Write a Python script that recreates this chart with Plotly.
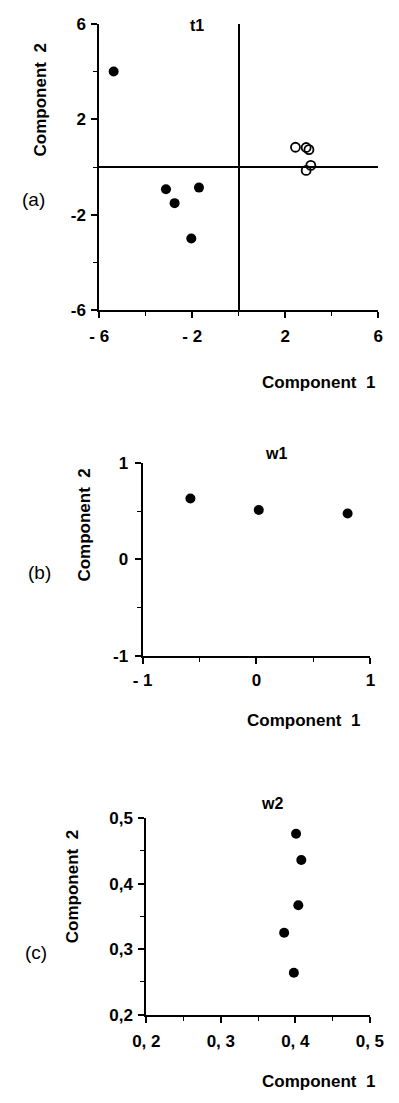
import plotly.graph_objects as go

# ---- data ----
t1_filled_x = [-5.38, -3.13, -2.76, -1.71, -2.04]
t1_filled_y = [4.0, -0.93, -1.51, -0.86, -2.99]
t1_open_x = [2.44, 2.90, 3.02, 3.10, 2.90]
t1_open_y = [0.83, 0.82, 0.73, 0.07, -0.14]

w1_x = [-0.58, 0.02, 0.80]
w1_y = [0.63, 0.51, 0.475]

w2_x = [0.401, 0.408, 0.404, 0.385, 0.398]
w2_y = [0.476, 0.436, 0.367, 0.325, 0.264]

a_xticks = [-6, -2, 2, 6]
a_xticktext = ["- 6", "- 2", "2", "6"]
a_yticks = [-6, -2, 2, 6]
a_yticktext = ["-6", "-2", "2", "6"]
b_ticks = [-1, 0, 1]
b_xticktext = ["- 1", "0", "1"]
b_yticktext = ["-1", "0", "1"]
c_ticks = [0.2, 0.3, 0.4, 0.5]
c_xticktext = ["0, 2", "0, 3", "0, 4", "0, 5"]
c_yticktext = ["0,2", "0,3", "0,4", "0,5"]

W, H = 399, 1103
def dx(p):
    return p / W
def dy(p):
    return 1 - p / H

FONT = "Liberation Sans"
tickfont = dict(family=FONT, size=17, color="black", weight="bold")

fig = go.Figure()

fig.add_trace(go.Scatter(x=t1_filled_x, y=t1_filled_y, mode="markers",
                         marker=dict(symbol="circle", size=10, color="black"),
                         xaxis="x", yaxis="y"))
fig.add_trace(go.Scatter(x=t1_open_x, y=t1_open_y, mode="markers",
                         marker=dict(symbol="circle-open", size=9, color="black",
                                     line=dict(width=1.8, color="black")),
                         xaxis="x", yaxis="y"))
fig.add_trace(go.Scatter(x=w1_x, y=w1_y, mode="markers",
                         marker=dict(symbol="circle", size=10, color="black"),
                         xaxis="x2", yaxis="y2"))
fig.add_trace(go.Scatter(x=w2_x, y=w2_y, mode="markers",
                         marker=dict(symbol="circle", size=10, color="black"),
                         xaxis="x3", yaxis="y3"))

def axis(domain, rng, tickvals, ticktext, minor_dtick, anchor, zeroline=False, standoff=4):
    return dict(domain=domain, range=rng, tickmode="array", tickvals=tickvals,
                ticktext=ticktext, showgrid=False, showline=True, linecolor="black",
                linewidth=2, ticks="outside", ticklen=6, tickwidth=1.5, tickcolor="black",
                tickfont=tickfont, anchor=anchor, zeroline=zeroline, zerolinecolor="black",
                zerolinewidth=1.6, ticklabelstandoff=standoff,
                minor=dict(dtick=minor_dtick, tick0=rng[0], ticks="outside", ticklen=4,
                           tickwidth=1.2, tickcolor="black", showgrid=False))

fig.update_layout(
    width=W, height=H, margin=dict(l=0, r=0, t=0, b=0),
    paper_bgcolor="white", plot_bgcolor="white", showlegend=False,
    xaxis=axis([dx(91.7), dx(391.7)], [-6, 6], a_xticks, a_xticktext, 2, "y", True, 3),
    yaxis=axis([dy(306.7), dy(15)], [-6, 6], a_yticks, a_yticktext, 2, "x", True, 2),
    xaxis2=axis([dx(138.3), dx(383.3)], [-1, 1], b_ticks, b_xticktext, 0.5, "y2", False, 2),
    yaxis2=axis([dy(658.3), dy(461.7)], [-1, 1], b_ticks, b_yticktext, 0.5, "x2", False, 3),
    xaxis3=axis([dx(142.3), dx(382.7)], [0.2, 0.5], c_ticks, c_xticktext, 0.05, "y3", False, 4),
    yaxis3=axis([dy(1023.3), dy(823.3)], [0.2, 0.5], c_ticks, c_yticktext, 0.05, "x3", False, 2),
)

def ann(text, x, y, size=17, bold=True, angle=0):
    fig.add_annotation(text=text, x=dx(x), y=dy(y), xref="paper", yref="paper",
                       showarrow=False, textangle=angle, xanchor="center", yanchor="middle",
                       font=dict(family=FONT, size=size, color="black",
                                 weight="bold" if bold else "normal"))

# panel titles
ann("t1", 197, 17, 16)
ann("w1", 282, 452, 16)
ann("w2", 277, 808, 16)
# panel labels
ann("(a)", 21, 194, 19, bold=False)
ann("(b)", 27, 573, 19, bold=False)
ann("(c)", 24, 960, 19, bold=False)
# axis titles
ann("Component  1", 328, 380)
ann("Component  1", 311, 724)
ann("Component  1", 327, 1091)
ann("Component  2", 28, 93, angle=-90)
ann("Component  2", 76, 525, angle=-90)
ann("Component  2", 63, 893, angle=-90)

fig.write_html("out.html")
